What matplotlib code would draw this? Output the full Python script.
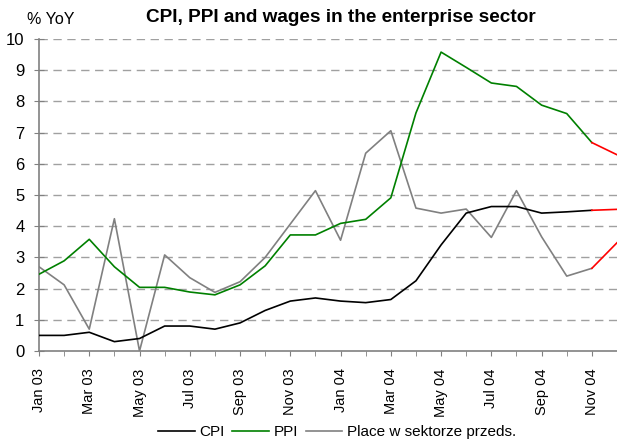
import numpy as np
from matplotlib import pyplot as plt
from matplotlib.lines import Line2D

plt.rcParams['font.family'] = ['Liberation Sans', 'DejaVu Sans']

# monthly data Jan 03 - Dec 04 (last month = forecast, drawn in red)
months = ['Jan 03', 'Feb 03', 'Mar 03', 'Apr 03', 'May 03', 'Jun 03', 'Jul 03', 'Aug 03',
          'Sep 03', 'Oct 03', 'Nov 03', 'Dec 03', 'Jan 04', 'Feb 04', 'Mar 04', 'Apr 04',
          'May 04', 'Jun 04', 'Jul 04', 'Aug 04', 'Sep 04', 'Oct 04', 'Nov 04', 'Dec 04']
cpi = [0.5, 0.5, 0.6, 0.3, 0.4, 0.8, 0.8, 0.7, 0.9, 1.3, 1.6, 1.7,
       1.6, 1.55, 1.65, 2.25, 3.4, 4.42, 4.63, 4.63, 4.42, 4.46, 4.51, 4.54]
ppi = [2.46, 2.89, 3.58, 2.7, 2.04, 2.04, 1.89, 1.8, 2.12, 2.73, 3.72, 3.72,
       4.09, 4.22, 4.91, 7.63, 9.58, 9.09, 8.59, 8.48, 7.88, 7.61, 6.68, 6.29]
wages = [2.7, 2.12, 0.7, 4.24, 0.0, 3.08, 2.35, 1.88, 2.22, 3.0, 4.07, 5.14,
         3.55, 6.34, 7.06, 4.58, 4.42, 4.55, 3.64, 5.14, 3.66, 2.4, 2.65, 3.47]

x = np.arange(len(months))
n = len(months) - 1  # index of last actual month + 1

fig = plt.figure(figsize=(6.17, 4.44), dpi=100)
ax = fig.add_axes([39/617, 93/444, 578/617, 312/444])

# horizontal dashed grid
for yv in range(1, 11):
    ax.axhline(yv, color='#a0a0a0', lw=1, dashes=(6, 4), zorder=1)

ax.plot(x[:n], cpi[:n], color='black', lw=1.2, zorder=3)
ax.plot(x[:n], ppi[:n], color='#008000', lw=1.2, zorder=3)
ax.plot(x[:n], wages[:n], color='#808080', lw=1.2, zorder=2)
# last (forecast) segment in red
for s in (cpi, ppi, wages):
    ax.plot(x[n-1:], s[n-1:], color='#ff0000', lw=1.2, zorder=3)

ax.set_xlim(0, len(months) - 1)
ax.set_ylim(0, 10)
ax.set_yticks(range(0, 11))
ax.set_xticks(x[::2])
ax.set_xticklabels(months[::2], rotation=90, fontsize=10.5)
ax.set_xticks(x, minor=True)

for sp in ['top', 'right']:
    ax.spines[sp].set_visible(False)
for sp in ['left', 'bottom']:
    ax.spines[sp].set_color('#808080')
    ax.spines[sp].set_linewidth(1.2)
ax.tick_params(axis='both', which='both', colors='#808080', labelcolor='black')
ax.tick_params(axis='x', which='both', length=3.5, direction='out', pad=9)
ax.tick_params(axis='y', length=7, direction='inout', pad=7, labelsize=12)

fig.text(341/617, 1 - 18/444, 'CPI, PPI and wages in the enterprise sector',
         ha='center', va='center', fontsize=13.7, fontweight='bold')
fig.text(27/617, 1 - 20/444, '% YoY', ha='left', va='center', fontsize=11.5)

handles = [Line2D([], [], color='black', lw=1.2),
           Line2D([], [], color='#008000', lw=1.2),
           Line2D([], [], color='#808080', lw=1.2)]
fig.legend(handles, ['CPI', 'PPI', 'Place w sektorze przeds.'], loc='center',
           bbox_to_anchor=(337/617, 1 - 432/444), ncol=3, frameon=False, fontsize=11,
           handlelength=2.4, handletextpad=0.3, columnspacing=0.5)

plt.savefig('out.png', dpi=100)
